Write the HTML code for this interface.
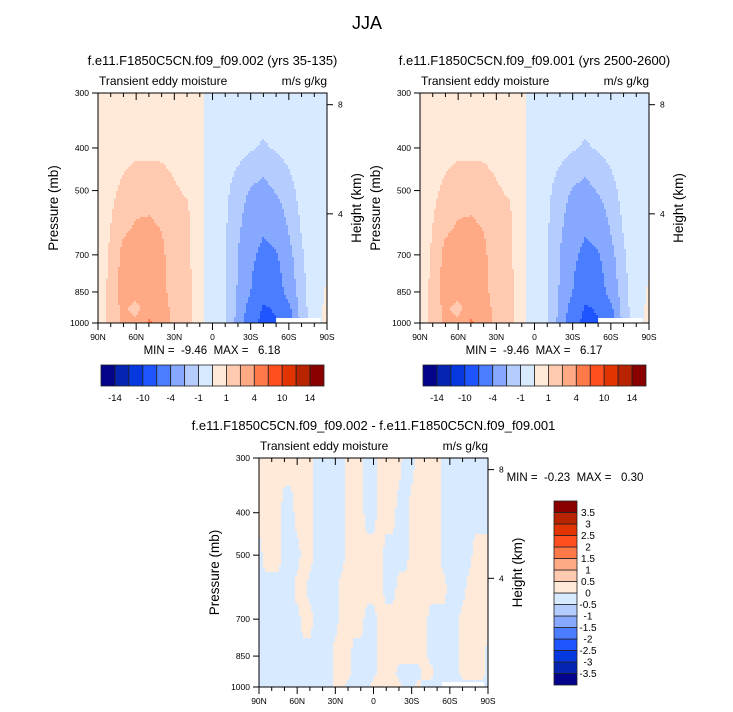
<!DOCTYPE html>
<html><head><meta charset="utf-8">
<style>
html,body{margin:0;padding:0;background:#fff;}
svg{display:block;font-family:"Liberation Sans",sans-serif;}
text{white-space:pre;}
</style></head>
<body>
<svg id="fig" width="733" height="712" viewBox="0 0 733 712" xmlns="http://www.w3.org/2000/svg">
<text x="367" y="29" font-size="18" text-anchor="middle">JJA</text>
<g id="panels"></g>
</svg>
<script>
// ---------- data ----------
const lats = [90,80,70,60,50,40,30,20,10,0,-10,-20,-30,-40,-50,-60,-70,-80,-90];
const levels = [300,400,500,600,700,850,925,1000];
const fieldA = [
[.5,.5,.5,.5,.5,.5,.5,.5,.3,-.6,-.5,-.5,-.5,-.5,-.5,-.5,-.5,-.5,-.5],
[.5,.6,.7,.8,.8,.8,.7,.6,.3,-.6,-.6,-.7,-.9,-1.1,-.9,-.7,-.5,-.5,-.5],
[.5,.8,1.2,1.5,1.5,1.4,1.1,.9,.3,-.6,-.8,-1.4,-2.1,-2.4,-1.9,-1.3,-.7,-.5,-.5],
[.6,1.0,1.7,2.1,2.2,1.9,1.2,1.3,.3,-.6,-.9,-1.7,-2.9,-3.6,-3.1,-1.8,-.9,-.5,-.5],
[.6,1.1,2.4,2.7,2.8,2.3,1.2,1.2,.3,-.6,-1.0,-2.0,-3.5,-4.6,-4.2,-2.4,-1.1,-.6,-.4],
[.6,1.2,2.6,3.0,3.1,2.5,1.3,1.5,.3,-.6,-1.0,-2.1,-4.0,-6,-5.5,-3,-1.2,-.6,.2],
[.6,1.2,2.4,1.3,3.3,3.0,1.3,1.5,.3,-.5,-.9,-2.2,-5,-8.5,-7.5,-4.5,-1.3,-.6,.3],
[.6,1.2,2.4,2.5,4.3,3.5,1.4,1.5,.3,-.5,-.9,-2.4,-6,-9.4,-8.5,-5,-1.3,-.6,.3]];
const fieldB = [
[.5,.5,.5,.5,.5,.5,.5,.5,.3,-.6,-.5,-.5,-.5,-.5,-.5,-.5,-.5,-.5,-.5],
[.5,.6,.7,.8,.8,.8,.7,.6,.3,-.6,-.6,-.7,-.9,-1.1,-.9,-.7,-.5,-.5,-.5],
[.5,.8,1.2,1.5,1.5,1.4,1.1,.9,.3,-.6,-.8,-1.4,-2.1,-2.4,-1.9,-1.3,-.7,-.5,-.5],
[.6,1.0,1.7,2.1,2.2,1.9,1.2,1.3,.3,-.6,-.9,-1.7,-2.9,-3.6,-3.1,-1.8,-.9,-.5,-.5],
[.6,1.1,2.4,2.7,2.8,2.3,1.2,1.2,.3,-.6,-1.0,-2.0,-3.5,-4.6,-4.2,-2.4,-1.1,-.6,-.4],
[.6,1.2,2.6,3.0,3.1,2.5,1.3,1.5,.3,-.6,-1.0,-2.1,-4.0,-6,-5.5,-3,-1.2,-.6,.2],
[.6,1.2,2.4,1.3,3.3,3.0,1.3,1.5,.3,-.5,-.9,-2.2,-5,-8.5,-7.5,-4.5,-1.3,-.6,.3],
[.6,1.2,2.4,2.5,4.3,3.5,1.4,1.5,.3,-.5,-.9,-2.4,-6,-9.4,-8.5,-5,-1.3,-.6,.3]];
const diffLats = [90,85,80,75,70,65,60,55,50,45,40,35,30,25,20,15,10,5,0,-5,-10,-15,-20,-25,-30,-35,-40,-45,-50,-55,-60,-65,-70,-75,-80,-85,-90];
const diffField = [
[.1,.1,.1,.1,.1,.1,.1,.1,.1,-.1,-.1,-.1,-.1,-.1,.1,.1,.1,-.1,-.1,.1,.1,.1,.1,-.1,-.1,.1,.1,.1,.1,-.1,-.1,-.1,-.1,-.1,-.1,-.1,-.1],
[.1,.1,.1,.1,-.1,-.1,.1,.1,.1,-.1,-.1,-.1,-.1,-.1,.1,.1,.1,-.1,-.1,.1,.1,.1,-.1,-.1,.1,.1,.1,.1,.1,-.1,-.1,-.1,-.1,-.1,-.1,-.1,-.1],
[-.1,.1,.1,.1,-.1,-.1,-.1,.1,.1,-.1,-.1,-.1,-.1,-.1,.1,.1,.1,.1,.1,.1,-.1,-.1,-.1,-.1,.1,.1,.1,.1,.1,-.1,-.1,-.1,-.1,-.1,.1,.1,.1],
[-.1,-.1,-.1,-.1,-.1,-.1,.1,.1,-.1,-.1,-.1,-.1,-.1,.1,.1,.1,.1,.1,.1,.1,-.1,-.1,.1,.1,.1,.1,.1,.1,.1,.1,-.1,-.1,-.1,.1,.1,.1,.1],
[-.1,-.1,-.1,-.1,-.1,-.1,-.1,.1,.1,-.1,-.1,-.1,-.1,.1,.1,.1,.1,-.1,-.1,.1,.1,.1,.1,.1,.1,.1,.1,-.1,-.1,-.1,-.1,-.1,.1,.1,.1,.1,.1],
[-.1,-.1,-.1,-.1,-.1,-.1,-.1,-.1,-.1,-.1,-.1,-.1,.1,.1,.1,-.1,-.1,-.1,-.1,.1,.1,.1,.1,.1,.1,.1,.1,-.1,-.1,-.1,-.1,-.1,.1,.1,.1,.1,-.1],
[-.1,-.1,-.1,-.1,-.1,-.1,-.1,-.1,-.1,-.1,-.1,-.1,.1,.1,.1,-.1,-.1,-.1,-.1,.1,.1,.1,-.1,-.1,-.1,-.1,.1,.1,-.1,-.1,-.1,-.1,.1,.1,.1,.1,-.1],
[-.1,-.1,-.1,-.1,-.1,-.1,-.1,-.1,-.1,-.1,-.1,-.1,.1,.1,-.1,-.1,-.1,-.1,.1,.1,.1,.1,.1,-.1,-.1,.1,-.1,-.1,-.1,-.1,-.1,-.1,-.1,-.1,-.1,-.1,-.1]];
const contourLevels = [-14,-12,-10,-8,-4,-2,-1,0,1,2,4,8,10,12,14];
const cbLabelsTop = ["-14","-10","-4","-1","1","4","10","14"];
const diffLevels = [-3.5,-3,-2.5,-2,-1.5,-1,-0.5,0,0.5,1,1.5,2,2.5,3,3.5];
const diffLabels = ["-3.5","-3","-2.5","-2","-1.5","-1","-0.5","0","0.5","1","1.5","2","2.5","3","3.5"];
const xTicks = [90,60,30,0,-30,-60,-90];
const xTickLabels = ["90N","60N","30N","0","30S","60S","90S"];
const pTicks = [300,400,500,700,850,1000];
const hTicks = [8,4];
const colors = ["#03038c","#0524b0","#0638e0","#1e55ff","#4a7dff","#87a8ff","#b5ccff","#d8eaff","#ffe9d8","#ffcab0","#ffa985","#ff7a48","#ff4f1e","#e23400","#b82400","#8a0000"];

const NS="http://www.w3.org/2000/svg";
const root=document.getElementById('panels');
function mk(tag,attrs,parent){const e=document.createElementNS(NS,tag);for(const k in attrs)e.setAttribute(k,attrs[k]);(parent||root).appendChild(e);return e;}
function txt(s,attrs,parent){const e=mk('text',attrs,parent);e.textContent=s;return e;}

function makeAxes(x0,y0,w,h){
  const xs=lat=>x0+(90-lat)/180*w;
  const lr=Math.log(1000/300);
  const ys=p=>y0+(1-Math.log(1000/p)/lr)*h;
  const yh=z=>ys(1000*Math.exp(-z/7));
  return {xs,ys,yh};
}
function interp(field,latArr,lat,p){
  let i=0; while(i<latArr.length-2 && lat<latArr[i+1]) i++;
  const t=(latArr[i]-lat)/(latArr[i]-latArr[i+1]);
  let j=0; while(j<levels.length-2 && p>levels[j+1]) j++;
  const lp=Math.log(p),l0=Math.log(levels[j]),l1=Math.log(levels[j+1]);
  const u=Math.min(1,Math.max(0,(lp-l0)/(l1-l0)));
  const tt=Math.min(1,Math.max(0,t));
  const a=field[j][i]*(1-tt)+field[j][i+1]*tt;
  const b=field[j+1][i]*(1-tt)+field[j+1][i+1]*tt;
  return a*(1-u)+b*u;
}
function band(v,lv){let k=0;while(k<lv.length && v>=lv[k])k++;return k;}

function drawPanel(opt){
  const g=mk('g',{});
  
  
  const {x0,y0,w,h}=opt;
  const ax=makeAxes(x0,y0,w,h);
  const fill=mk('g',{},g);
  
  
  const step=2;
  const ncols=Math.ceil(w/step);
  for(let py=0;py<h;py+=step){
    const yc=y0+py+step/2;
    const frac=1-(yc-y0)/h;
    const p=1000*Math.exp(-frac*Math.log(1000/300));
    let start=0,cur=-1;
    for(let c=0;c<=ncols;c++){
      const px=Math.min(c*step,w);
      let k=-2;
      if(c<ncols){const lat=90-(px+step/2)/w*180;k=band(interp(opt.field,opt.lats,lat,p),opt.levels);}
      if(k!==cur){
        if(cur>=0){
          const r=mk('rect',{x:x0+start,y:y0+py,width:px-start+0.5,height:Math.min(step+0.5,h-py),fill:colors[cur]},fill);
          
          
        }
        cur=k;start=px;
      }
    }
  }
  const m=mk('rect',{x:ax.xs(opt.maskLat[0]),y:y0+h-5,width:ax.xs(opt.maskLat[1])-ax.xs(opt.maskLat[0]),height:5,fill:'#fff'},g);
  
  
  mk('rect',{x:x0,y:y0,width:w,height:h,fill:'none',stroke:'#000','stroke-width':1},g);
  for(let lat=90;lat>=-90;lat-=10){
    const x=ax.xs(lat);const major=lat%30===0;const L=major?7:4;
    mk('line',{x1:x,y1:y0,x2:x,y2:y0+L,stroke:'#000','stroke-width':1},g);
    mk('line',{x1:x,y1:y0+h,x2:x,y2:y0+h+L,stroke:'#000','stroke-width':1},g);
  }
  xTicks.forEach((lat,i)=>{
    const t=txt(xTickLabels[i],{x:ax.xs(lat),y:y0+h+17,'font-size':8.5,'text-anchor':'middle'},g);
    
    
  });
  pTicks.forEach(p=>{
    const y=ax.ys(p);
    mk('line',{x1:x0-6,y1:y,x2:x0,y2:y,stroke:'#000'},g);
    const t=txt(String(p),{x:x0-9,y:y+3,'font-size':8.5,'text-anchor':'end'},g);
    
    
  });
  hTicks.forEach(z=>{
    const y=ax.yh(z);
    mk('line',{x1:x0+w,y1:y,x2:x0+w+6,y2:y,stroke:'#000'},g);
    const t=txt(String(z),{x:x0+w+11,y:y+3,'font-size':8.5},g);
    
    
  });
  const pl=txt('Pressure (mb)',{x:0,y:0,'font-size':13.5,'text-anchor':'middle',transform:`translate(${x0-40},${y0+h/2}) rotate(-90)`},g);
  
  
  const hl=txt('Height (km)',{x:0,y:0,'font-size':13.5,'text-anchor':'middle',transform:`translate(${x0+w+34},${y0+h/2}) rotate(-90)`},g);
  
  
  const t1=txt(opt.title,{x:x0+w/2,y:y0-28,'font-size':13,'text-anchor':'middle'},g);
  
  
  const t2=txt('Transient eddy moisture',{x:x0+1,y:y0-8,'font-size':12},g);
  
  
  const t3=txt('m/s g/kg',{x:x0+w,y:y0-8,'font-size':12,'text-anchor':'end'},g);
  
  
  return g;
}
function hColorbar(x0,y0,w,h,name){
  const g=mk('g',{});
  
  
  const n=colors.length,bw=w/n;
  colors.forEach((c,i)=>{
    const r=mk('rect',{x:x0+i*bw,y:y0,width:bw,height:h,fill:c,stroke:'#222','stroke-width':0.8},g);
    
    
  });
  cbLabelsTop.forEach((s,i)=>{
    const t=txt(s,{x:x0+(1+2*i)*bw,y:y0+h+15,'font-size':9.5,'text-anchor':'middle'},g);
    
    
  });
}
function vColorbar(x0,y0,w,h){
  const g=mk('g',{});
  
  
  const n=colors.length,bh=h/n;
  colors.forEach((c,i)=>{
    const r=mk('rect',{x:x0,y:y0+h-(i+1)*bh,width:w,height:bh,fill:c,stroke:'#222','stroke-width':0.8},g);
    
    
  });
  diffLabels.forEach((s,i)=>{
    const t=txt(s,{x:x0+w+11,y:y0+h-(i+1)*bh+3.5,'font-size':10,'text-anchor':'middle'},g);
    
    
  });
}

drawPanel({name:'panel-002',x0:98,y0:93,w:229,h:230,field:fieldA,lats:lats,levels:contourLevels,maskLat:[-50,-85],title:'f.e11.F1850C5CN.f09_f09.002 (yrs 35-135)'});
drawPanel({name:'panel-001',x0:420,y0:93,w:229,h:230,field:fieldB,lats:lats,levels:contourLevels,maskLat:[-50,-85],title:'f.e11.F1850C5CN.f09_f09.001 (yrs 2500-2600)'});
drawPanel({name:'panel-diff',x0:259,y0:458,w:229,h:229,field:diffField,lats:diffLats,levels:diffLevels,maskLat:[-54,-87],title:'f.e11.F1850C5CN.f09_f09.002 - f.e11.F1850C5CN.f09_f09.001'});

let mm=txt('MIN =  -9.46  MAX =   6.18',{x:212,y:354,'font-size':11.5,'text-anchor':'middle'});


mm=txt('MIN =  -9.46  MAX =   6.17',{x:534,y:354,'font-size':11.5,'text-anchor':'middle'});


mm=txt('MIN =  -0.23  MAX =   0.30',{x:575,y:481,'font-size':11.5,'text-anchor':'middle'});



hColorbar(101,365,223,21,'colorbar-002');
hColorbar(423,365,223,21,'colorbar-001');
vColorbar(554,501,23,184);
</script>
</body></html>
